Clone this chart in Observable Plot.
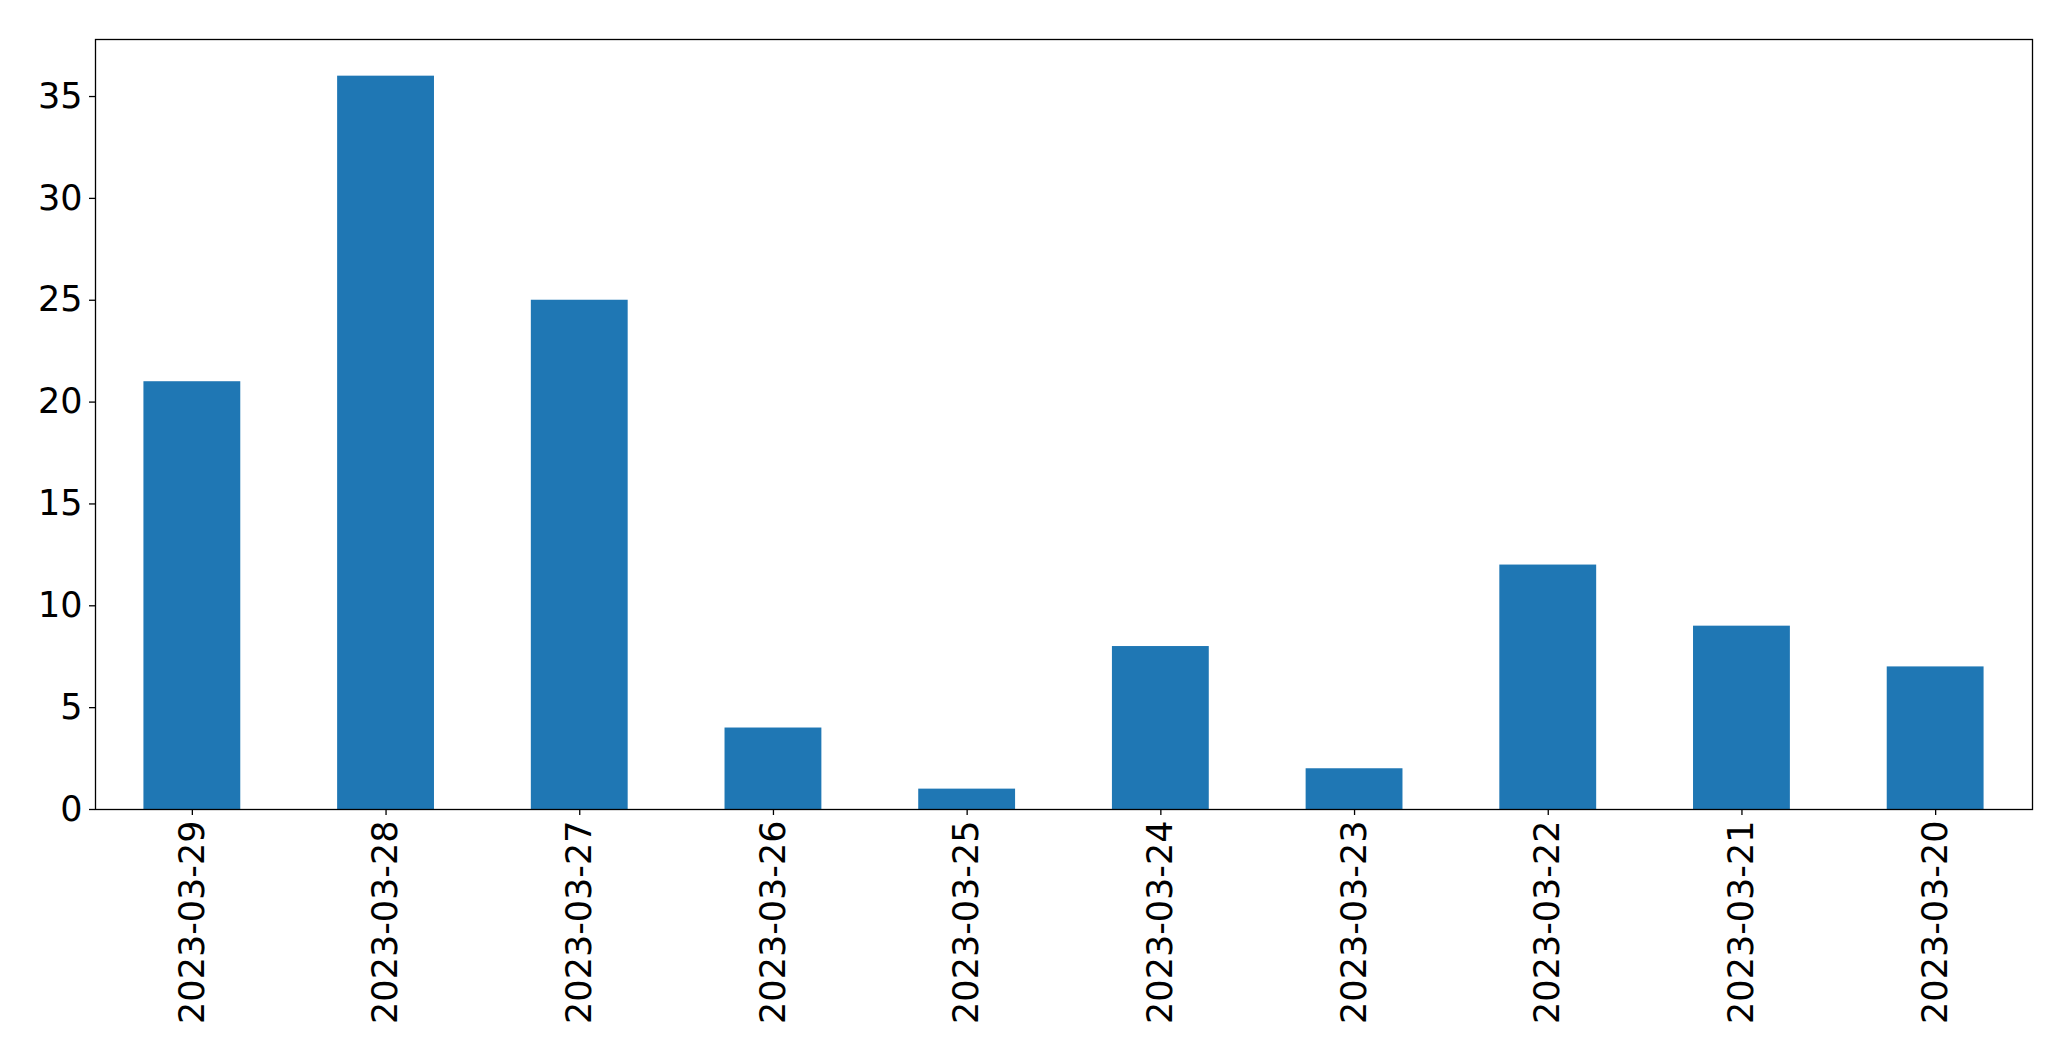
<!DOCTYPE html>
<html>
<head>
<meta charset="utf-8">
<script src="https://cdn.jsdelivr.net/npm/d3@7"></script>
<script src="https://cdn.jsdelivr.net/npm/@observablehq/plot@0.6"></script>
<style>
  html, body { margin: 0; padding: 0; background: #fff; }
  #chart { width: 2071px; height: 1061px; }
</style>
</head>
<body>
<div id="chart"></div>
<script>
const dates = ["2023-03-29", "2023-03-28", "2023-03-27", "2023-03-26", "2023-03-25",
               "2023-03-24", "2023-03-23", "2023-03-22", "2023-03-21", "2023-03-20"];
const counts = [21, 36, 25, 4, 1, 8, 2, 12, 9, 7];
const yTicks = [0, 5, 10, 15, 20, 25, 30, 35];

const data = dates.map((d, i) => ({date: d, count: counts[i]}));

const chart = Plot.plot({
  width: 2071,
  height: 1061,
  marginLeft: 95,
  marginRight: 39,
  marginTop: 39,
  marginBottom: 252,
  style: {fontFamily: "DejaVu Sans", color: "#000", background: "#fff", overflow: "visible"},
  x: {type: "band", domain: dates, paddingInner: 0.5, paddingOuter: 0.25, round: false, label: null},
  y: {domain: [0, 37.8], label: null},
  marks: [
    Plot.barY(data, {x: "date", y: "count", fill: "#1f77b4"}),
    Plot.frame({stroke: "#000", strokeWidth: 1.3}),
    Plot.axisY({ticks: yTicks, tickSize: 6, tickPadding: 7, fontSize: 35, label: null, strokeWidth: 1.3}),
    Plot.axisX({tickRotate: -90, tickSize: 6, tickPadding: 5, fontSize: 35, label: null, strokeWidth: 1.3})
  ]
});
document.getElementById("chart").appendChild(chart);
</script>
</body>
</html>
